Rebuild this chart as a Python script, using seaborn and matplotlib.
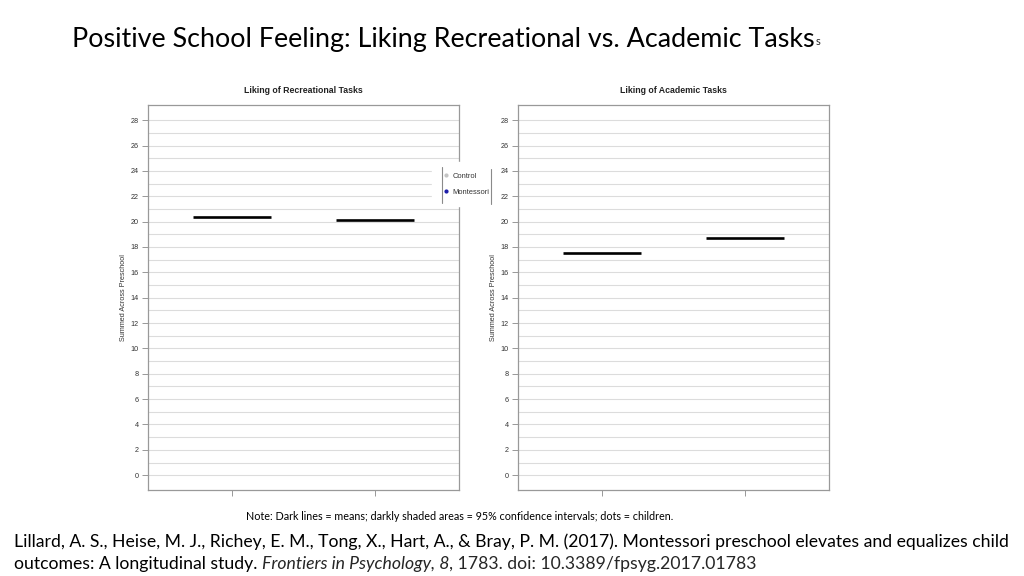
import matplotlib.pyplot as plt
from matplotlib.lines import Line2D
import pandas as pd
import seaborn as sns

# values
groups = ["Control", "Montessori"]
recreational_means = [20.35, 20.1]
academic_means = [17.5, 18.7]
panel_titles = ["Liking of Recreational Tasks", "Liking of Academic Tasks"]
major_ticks = list(range(0, 29, 2))
minor_ticks = list(range(0, 29, 1))
dot_colors = ["#c4c4c4", "#1c1ca8"]

sns.set_theme(style="white")
plt.rcParams["font.family"] = ["Liberation Sans", "DejaVu Sans"]

fig = plt.figure(figsize=(10.24, 5.76), dpi=100)
axes = [fig.add_axes([0.1445, 0.149, 0.3037, 0.6684]),
        fig.add_axes([0.5059, 0.149, 0.3037, 0.6684])]

for ax, means, title in zip(axes, [recreational_means, academic_means], panel_titles):
    df = pd.DataFrame({"group": groups, "mean": means})
    # dark lines = means
    sns.pointplot(data=df, x="group", y="mean", ax=ax, color="black",
                  markers="_", linestyle="none", errorbar=None,
                  markersize=56, markeredgewidth=1.9)
    ax.set_xlim(-0.59, 1.59)
    ax.set_ylim(-1.18, 29.18)
    ax.set_yticks(major_ticks)
    ax.set_yticks(minor_ticks, minor=True)
    ax.grid(axis="y", which="both", color="#dcdcdc", linewidth=0.8)
    ax.set_axisbelow(True)
    ax.set_xticks([0, 1])
    ax.set_xticklabels([])
    ax.set_xlabel("")
    ax.tick_params(axis="both", which="major", length=4, width=0.6, color="#888888",
                   labelsize=5.2, labelcolor="#333333", pad=2.5, bottom=True, left=True)
    ax.tick_params(axis="y", which="minor", length=0)
    ax.set_ylabel("Summed Across Preschool", fontsize=5.2, color="#333333", labelpad=3)
    ax.set_title(title, fontsize=6.3, fontweight="bold", color="#222222", pad=9)
    for sp in ax.spines.values():
        sp.set_color("#999999")
        sp.set_linewidth(0.9)

# legend between the panels
handles = [Line2D([], [], marker="o", linestyle="none", markersize=2.0,
                  markerfacecolor=c, markeredgecolor=c) for c in dot_colors]
leg = fig.legend(handles, groups, loc="center", bbox_to_anchor=(466 / 1024, 1 - 184 / 576),
                 fontsize=5.4, frameon=True, facecolor="white", edgecolor="white",
                 framealpha=1, handletextpad=0.5, borderpad=1.4, labelspacing=1.2,
                 handlelength=0.8, labelcolor="#333333")
for lx, y0, y1 in [(442, 167, 203), (491, 169, 204)]:
    fig.add_artist(Line2D([lx / 1024, lx / 1024], [1 - y0 / 576, 1 - y1 / 576],
                          transform=fig.transFigure, color="#8a8a8a", linewidth=0.8,
                          zorder=10))

# slide text
sans = ["Lato", "DejaVu Sans"]
title_txt = fig.text(72 / 1024, 1 - 39 / 576,
                     "Positive School Feeling: Liking Recreational vs. Academic Tasks",
                     fontsize=19.4, family=sans, va="center", color="black")
axes[0].annotate("s", xy=(1, 0), xycoords=title_txt, xytext=(1, 3),
                 textcoords="offset points", fontsize=8, family=sans,
                 va="bottom", ha="left", annotation_clip=False)

fig.text(460 / 1024, 1 - 516 / 576,
         "Note: Dark lines = means; darkly shaded areas = 95% confidence intervals; dots = children.",
         fontsize=7.75, family=sans, ha="center", va="center", color="black")

fs = 12.73
fig.text(14 / 1024, 1 - 542 / 576,
         "Lillard, A. S., Heise, M. J., Richey, E. M., Tong, X., Hart, A., & Bray, P. M. (2017). "
         "Montessori preschool elevates and equalizes child",
         fontsize=fs, family=sans, va="center", color="black")
c1 = fig.text(14 / 1024, 1 - 564 / 576, "outcomes: A longitudinal study. ",
              fontsize=fs, family=sans, va="center", color="black")
c2 = axes[0].annotate("Frontiers in Psychology, 8", xy=(1, 0), xycoords=c1, fontsize=fs,
                      family=sans, style="italic", va="bottom", ha="left", annotation_clip=False)
axes[0].annotate(", 1783. doi: 10.3389/fpsyg.2017.01783", xy=(1, 0), xycoords=c2,
                 fontsize=fs, family=sans, va="bottom", ha="left", annotation_clip=False)

fig.savefig("out.png", dpi=100)
